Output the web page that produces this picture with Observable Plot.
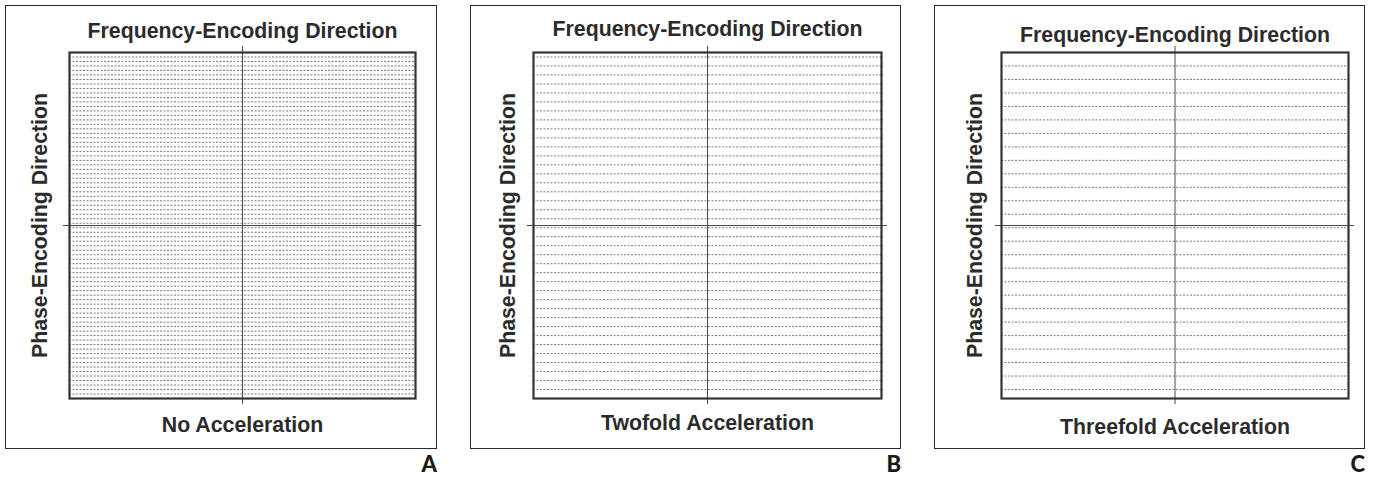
<!DOCTYPE html>
<html>
<head>
<meta charset="utf-8">
<script src="https://cdn.jsdelivr.net/npm/d3@7"></script>
<script src="https://cdn.jsdelivr.net/npm/@observablehq/plot@0.6"></script>
<style>
  html, body { margin: 0; padding: 0; background: #fff; }
  #root { position: relative; width: 1379px; height: 478px; overflow: hidden; background: #fff; }
  .outer { position: absolute; top: 5px; height: 444px; box-sizing: border-box; border: 1.5px solid #2a2a2a; pointer-events: none; }
  .letter { position: absolute; top: 450px; font-family: Lato, "Open Sans", sans-serif; font-weight: 900; font-size: 22px; color: #1a1a1a; text-align: right; }
</style>
</head>
<body>
<div id="root"></div>
<script>
// ---- data ----
const panelLetters = ["A", "B", "C"];
const accelerationLabels = ["No Acceleration", "Twofold Acceleration", "Threefold Acceleration"];
const accelerationFactors = [1, 2, 3];
const firstSampledRow = [1, 1, 3];
const frequencyLabel = "Frequency-Encoding Direction";
const phaseLabel = "Phase-Encoding Direction";
const phaseEncodingSteps = 77;          // k-space rows across the grid
const readoutDomain = [-1, 1];          // frequency-encoding (kx) extent
const axisOverhang = 1.035;             // crosshair reaches slightly past the grid

// ---- layout (pixels) ----
const layout = [
  {left: 5,   width: 432, ml: 64, mr: 22, titleDy: -21, sideDx: -29, bottomDy: 27},
  {left: 470, width: 431, ml: 63, mr: 20, titleDy: -23, sideDx: -25, bottomDy: 25},
  {left: 934, width: 431, ml: 67, mr: 17, titleDy: -17, sideDx: -26, bottomDy: 29}
];
const H = 444, MT = 47, MB = 51;
const font = "Liberation Sans, Arial, Helvetica, sans-serif";
const textColor = "#2b2b2b";

const root = document.getElementById("root");

panelLetters.forEach((letter, p) => {
  const L = layout[p];
  const R = accelerationFactors[p];
  const rows = d3.range(firstSampledRow[p], phaseEncodingSteps, R);
  const center = phaseEncodingSteps / 2;

  const chart = Plot.plot({
    width: L.width,
    height: H,
    marginLeft: L.ml,
    marginRight: L.mr,
    marginTop: MT,
    marginBottom: MB,
    x: {domain: readoutDomain, axis: null},
    y: {domain: [0, phaseEncodingSteps], reverse: true, axis: null},
    style: {background: "transparent", fontFamily: font, overflow: "visible"},
    marks: [
      Plot.ruleY(rows, {y: d => d, x1: readoutDomain[0], x2: readoutDomain[1],
        stroke: "#7a7a7a", strokeWidth: 1, strokeDasharray: "2,1.5"}),
      Plot.ruleY([center], {x1: -axisOverhang, x2: axisOverhang, stroke: "#4a4a4a", strokeWidth: 1}),
      Plot.ruleX([0], {y1: center - center * axisOverhang, y2: center + center * axisOverhang, stroke: "#4a4a4a", strokeWidth: 1}),
      Plot.frame({stroke: "#333", strokeWidth: 2.2}),
      Plot.text([frequencyLabel], {text: d => d, frameAnchor: "top", dy: L.titleDy,
        lineAnchor: "middle", fontSize: 21.3, fontWeight: "bold", fill: textColor}),
      Plot.text([accelerationLabels[p]], {text: d => d, frameAnchor: "bottom", dy: L.bottomDy,
        lineAnchor: "middle", fontSize: 21.3, fontWeight: "bold", fill: textColor}),
      Plot.text([phaseLabel], {text: d => d, frameAnchor: "left", dx: L.sideDx, rotate: -90,
        lineAnchor: "middle", textAnchor: "middle", fontSize: 21.3, fontWeight: "bold", fill: textColor})
    ]
  });
  chart.style.left = L.left + "px";
  chart.style.position = "absolute";
  chart.style.top = "5px";
  root.appendChild(chart);

  const outer = document.createElement("div");
  outer.className = "outer";
  outer.style.left = L.left + "px";
  outer.style.width = L.width + "px";
  root.appendChild(outer);

  const lab = document.createElement("div");
  lab.className = "letter";
  lab.textContent = letter;
  lab.style.left = (L.left + L.width - 60) + "px";
  lab.style.width = "60px";
  root.appendChild(lab);
});
</script>
</body>
</html>
